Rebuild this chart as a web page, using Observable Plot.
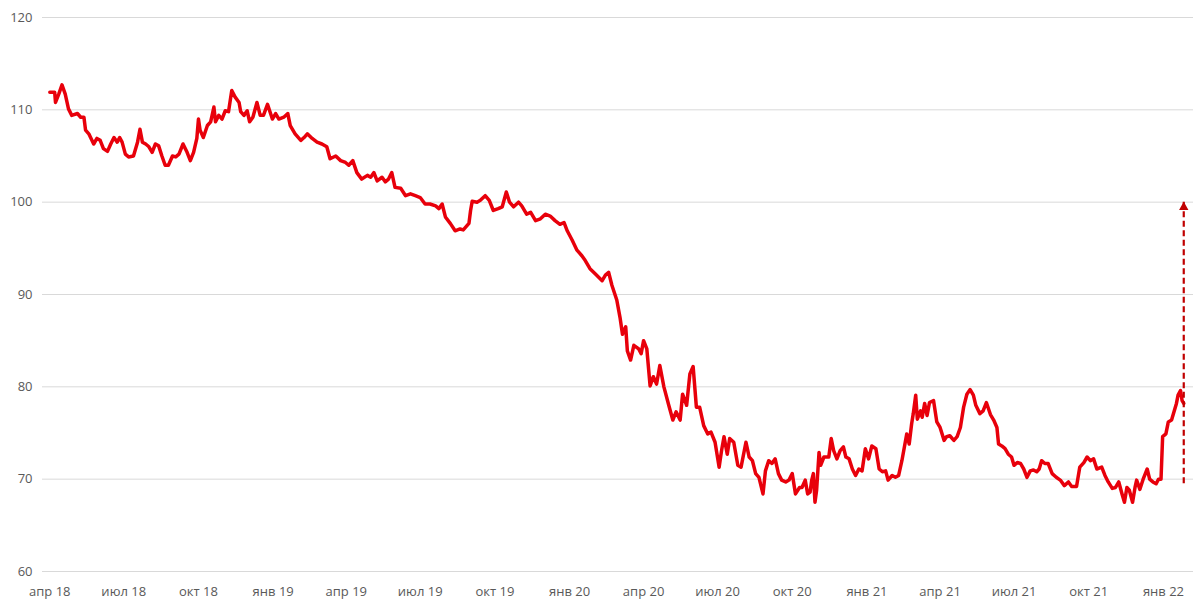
<!DOCTYPE html>
<html>
<head>
<meta charset="utf-8">
<script src="https://cdn.jsdelivr.net/npm/d3@7"></script>
<script src="https://cdn.jsdelivr.net/npm/@observablehq/plot@0.6"></script>
<style>
  html, body { margin: 0; padding: 0; background: #ffffff; }
  #chart { width: 1200px; height: 610px; }
</style>
</head>
<body>
<div id="chart"></div>
<script>
// ---- data ----
const series2018 = [
  ["2018-04-01",111.9],["2018-04-07",111.9],["2018-04-08",110.8],["2018-04-12",111.7],["2018-04-16",112.7],
  ["2018-04-20",111.7],["2018-04-24",110.1],["2018-04-28",109.4],["2018-05-05",109.6],["2018-05-09",109.2],
  ["2018-05-13",109.2],["2018-05-15",107.8],["2018-05-19",107.4],["2018-05-25",106.3],["2018-05-29",106.9],
  ["2018-06-02",106.7],["2018-06-06",105.8],["2018-06-11",105.5],["2018-06-15",106.3],["2018-06-19",107.0],
  ["2018-06-23",106.5],["2018-06-26",107.0],["2018-06-29",106.5],["2018-07-03",105.2],["2018-07-07",104.9],
  ["2018-07-13",105.0],["2018-07-18",106.5],["2018-07-21",107.9],["2018-07-24",106.5],["2018-07-28",106.3],
  ["2018-08-01",106.0],["2018-08-05",105.4],["2018-08-09",106.3],["2018-08-13",106.1],["2018-08-17",105.0],
  ["2018-08-21",104.0],["2018-08-25",104.0],["2018-08-30",105.0],["2018-09-03",104.9],["2018-09-07",105.2],
  ["2018-09-12",106.3],["2018-09-17",105.4],["2018-09-21",104.5],["2018-09-25",105.4],["2018-09-29",106.9],
  ["2018-10-01",109.0],["2018-10-03",107.8],["2018-10-07",107.0],["2018-10-12",108.3],["2018-10-16",108.7],
  ["2018-10-20",110.3],["2018-10-22",108.7],["2018-10-26",109.4],["2018-10-30",109.0],["2018-11-03",109.9],
  ["2018-11-07",109.8],["2018-11-11",112.1],["2018-11-15",111.4],["2018-11-20",110.8],["2018-11-22",109.8],
  ["2018-11-26",109.4],["2018-11-30",109.9],["2018-12-03",108.7],["2018-12-07",109.2],["2018-12-12",110.8],
  ["2018-12-16",109.4],["2018-12-20",109.4],["2018-12-25",110.6],["2018-12-31",109.0]
];
const series2019 = [
  ["2019-01-04",109.6],["2019-01-08",109.0],["2019-01-14",109.2],["2019-01-19",109.6],["2019-01-22",108.3],
  ["2019-01-28",107.4],["2019-02-04",106.7],["2019-02-08",107.0],["2019-02-12",107.4],["2019-02-18",106.9],
  ["2019-02-24",106.5],["2019-03-02",106.3],["2019-03-08",106.0],["2019-03-12",104.7],["2019-03-19",105.0],
  ["2019-03-25",104.5],["2019-03-31",104.3],["2019-04-04",104.0],["2019-04-09",104.5],["2019-04-14",103.2],
  ["2019-04-20",102.5],["2019-04-27",102.9],["2019-05-01",102.7],["2019-05-05",103.2],["2019-05-09",102.3],
  ["2019-05-15",102.7],["2019-05-19",102.2],["2019-05-23",102.5],["2019-05-27",103.2],["2019-05-31",101.6],
  ["2019-06-07",101.5],["2019-06-13",100.7],["2019-06-19",100.9],["2019-06-25",100.7],["2019-07-01",100.5],
  ["2019-07-07",99.8],["2019-07-13",99.8],["2019-07-20",99.6],["2019-07-24",99.3],["2019-07-28",99.8],
  ["2019-08-01",98.4],["2019-08-07",97.7],["2019-08-13",96.9],["2019-08-19",97.1],["2019-08-23",97.0],
  ["2019-08-30",97.7],["2019-09-01",99.1],["2019-09-03",100.1],["2019-09-09",100.0],["2019-09-13",100.2],
  ["2019-09-19",100.7],["2019-09-24",100.2],["2019-09-29",99.1],["2019-10-05",99.3],["2019-10-10",99.5],
  ["2019-10-15",101.1],["2019-10-19",100.0],["2019-10-24",99.5],["2019-10-30",100.0],["2019-11-03",99.6],
  ["2019-11-09",98.7],["2019-11-14",98.9],["2019-11-20",98.0],["2019-11-26",98.2],["2019-12-02",98.7],
  ["2019-12-08",98.5],["2019-12-14",98.0],["2019-12-20",97.6],["2019-12-25",97.8],["2019-12-29",96.9]
];
const series2020 = [
  ["2020-01-04",95.9],["2020-01-10",94.8],["2020-01-16",94.2],["2020-01-20",93.7],["2020-01-26",92.8],
  ["2020-02-02",92.2],["2020-02-10",91.5],["2020-02-14",92.1],["2020-02-18",92.4],["2020-02-22",91.0],
  ["2020-02-28",89.4],["2020-03-03",87.5],["2020-03-06",85.7],["2020-03-10",86.5],["2020-03-12",83.9],
  ["2020-03-16",82.9],["2020-03-20",84.5],["2020-03-26",84.1],["2020-03-29",83.6],["2020-04-01",85.0],
  ["2020-04-05",84.1],["2020-04-09",80.1],["2020-04-13",81.1],["2020-04-17",80.3],["2020-04-21",82.3],
  ["2020-04-26",80.0],["2020-05-02",78.0],["2020-05-07",76.4],["2020-05-11",77.3],["2020-05-16",76.4],
  ["2020-05-19",79.2],["2020-05-24",78.0],["2020-05-28",81.4],["2020-06-01",82.2],["2020-06-05",77.8],
  ["2020-06-09",77.8],["2020-06-14",75.8],["2020-06-19",74.9],["2020-06-23",75.1],["2020-06-28",74.0],
  ["2020-07-03",71.3],["2020-07-06",73.1],["2020-07-09",74.6],["2020-07-13",72.7],["2020-07-16",74.4],
  ["2020-07-21",74.0],["2020-07-26",71.5],["2020-07-30",71.3],["2020-08-05",74.0],["2020-08-09",72.4],
  ["2020-08-13",72.0],["2020-08-17",70.6],["2020-08-21",70.2],["2020-08-26",68.4],["2020-08-29",70.9],
  ["2020-09-02",72.0],["2020-09-06",71.7],["2020-09-10",72.2],["2020-09-14",70.6],["2020-09-18",69.9],
  ["2020-09-23",69.7],["2020-09-27",69.9],["2020-10-01",70.6],["2020-10-05",68.4],["2020-10-10",69.1],
  ["2020-10-13",69.1],["2020-10-17",69.9],["2020-10-20",68.4],["2020-10-23",68.6],["2020-10-25",69.9],
  ["2020-10-27",70.6],["2020-10-29",67.5],["2020-10-31",68.8],["2020-11-03",72.9],["2020-11-05",71.5],
  ["2020-11-09",72.4],["2020-11-15",72.4],["2020-11-18",74.4],["2020-11-21",73.1],["2020-11-25",72.2],
  ["2020-11-29",73.1],["2020-12-03",73.5],["2020-12-06",72.4],["2020-12-10",72.2],["2020-12-14",71.1],
  ["2020-12-18",70.4],["2020-12-22",71.1],["2020-12-26",70.9],["2020-12-30",73.3]
];
const series2021 = [
  ["2021-01-03",72.2],["2021-01-07",73.6],["2021-01-12",73.3],["2021-01-16",71.1],["2021-01-20",70.8],
  ["2021-01-24",70.9],["2021-01-27",69.9],["2021-02-01",70.4],["2021-02-05",70.2],["2021-02-09",70.4],
  ["2021-02-13",72.0],["2021-02-19",74.9],["2021-02-22",73.8],["2021-02-25",76.0],["2021-02-27",77.1],
  ["2021-03-02",79.1],["2021-03-04",76.5],["2021-03-08",77.4],["2021-03-10",76.7],["2021-03-13",78.2],
  ["2021-03-16",76.9],["2021-03-19",78.3],["2021-03-24",78.5],["2021-03-28",76.2],["2021-04-01",75.6],
  ["2021-04-06",74.2],["2021-04-09",74.6],["2021-04-13",74.7],["2021-04-18",74.2],["2021-04-22",74.6],
  ["2021-04-26",75.6],["2021-04-30",77.8],["2021-05-04",79.2],["2021-05-08",79.7],["2021-05-12",79.1],
  ["2021-05-15",78.0],["2021-05-20",77.1],["2021-05-24",77.4],["2021-05-28",78.3],["2021-06-02",77.0],
  ["2021-06-06",76.4],["2021-06-10",75.6],["2021-06-12",73.8],["2021-06-16",73.6],["2021-06-20",73.3],
  ["2021-06-24",72.7],["2021-06-28",72.4],["2021-07-01",71.5],["2021-07-05",71.8],["2021-07-09",71.7],
  ["2021-07-13",71.1],["2021-07-17",70.2],["2021-07-21",70.9],["2021-07-25",71.0],["2021-07-29",70.8],
  ["2021-08-01",71.1],["2021-08-04",72.0],["2021-08-08",71.7],["2021-08-12",71.7],["2021-08-17",70.6],
  ["2021-08-22",70.2],["2021-08-27",69.9],["2021-09-01",69.3],["2021-09-06",69.7],["2021-09-10",69.2],
  ["2021-09-16",69.2],["2021-09-20",71.3],["2021-09-25",71.8],["2021-09-29",72.4],["2021-10-03",72.0],
  ["2021-10-07",72.2],["2021-10-11",71.1],["2021-10-17",71.3],["2021-10-21",70.4],["2021-10-25",69.7],
  ["2021-10-30",69.0],["2021-11-03",69.1],["2021-11-07",69.7],["2021-11-11",68.4],["2021-11-14",67.5],
  ["2021-11-17",69.1],["2021-11-20",68.8],["2021-11-24",67.5],["2021-11-27",69.1],["2021-11-29",69.9],
  ["2021-12-03",68.9],["2021-12-07",70.0],["2021-12-12",71.1],["2021-12-15",70.0],["2021-12-19",69.7],
  ["2021-12-23",69.5],["2021-12-26",70.0],["2021-12-29",70.0],["2021-12-31",74.6]
];
const series2022 = [
  ["2022-01-04",74.9],["2022-01-07",76.2],["2022-01-11",76.4],["2022-01-14",77.3],["2022-01-17",78.2],
  ["2022-01-19",79.1],["2022-01-22",79.6],["2022-01-24",78.5],["2022-01-26",78.2]
];

const tickDates = ["2018-04-01","2018-07-01","2018-10-01","2019-01-01","2019-04-01","2019-07-01","2019-10-01","2020-01-01",
                   "2020-04-01","2020-07-01","2020-10-01","2021-01-01","2021-04-01","2021-07-01","2021-10-01","2022-01-01"];
const tickLabels = ["апр 18","июл 18","окт 18","янв 19","апр 19","июл 19","окт 19","янв 20",
                    "апр 20","июл 20","окт 20","янв 21","апр 21","июл 21","окт 21","янв 22"];
const yTicks = [60, 70, 80, 90, 100, 110, 120];
const xDomain = ["2018-03-23", "2022-02-07"];
const yDomain = [60, 120];

// dashed arrow at the end of the series
const arrowDate = "2022-01-26";
const arrowFrom = 69.5;
const arrowTo = 100;

// ---- build ----
const parse = s => new Date(s + "T00:00:00Z");
const data = [...series2018, ...series2019, ...series2020, ...series2021, ...series2022]
  .map(([d, v]) => ({date: parse(d), value: v}));
const tickDateObjs = tickDates.map(parse);
const labelMap = new Map(tickDateObjs.map((d, i) => [+d, tickLabels[i]]));
const arrow = [{date: parse(arrowDate), y1: arrowFrom, y2: arrowTo}];

const chart = Plot.plot({
  width: 1200,
  height: 610,
  marginTop: 17,
  marginBottom: 39,
  marginLeft: 42,
  marginRight: 7,
  style: {fontFamily: "'Open Sans', sans-serif", fontSize: "13px", color: "#595959", background: "#ffffff"},
  x: {type: "utc", domain: xDomain.map(parse), ticks: tickDateObjs, tickFormat: d => labelMap.get(+d),
      tickSize: 0, tickPadding: 15, label: null},
  y: {domain: yDomain, ticks: yTicks, tickSize: 0, tickPadding: 10, label: null},
  marks: [
    Plot.ruleY(yTicks, {stroke: "#d9d9d9", strokeWidth: 1}),
    Plot.line(data, {x: "date", y: "value", stroke: "#e8000b", strokeWidth: 3.5,
                     strokeLinejoin: "round", strokeLinecap: "round", curve: "linear"}),
    Plot.ruleX(arrow, {x: "date", y1: "y1", y2: "y2", stroke: "#c00000", strokeWidth: 2.2,
                       strokeDasharray: "6,3.5"}),
    Plot.dot(arrow, {x: "date", y: "y2", symbol: "triangle", r: 3.5, fill: "#c00000", stroke: "none", dy: 5})
  ]
});
document.getElementById("chart").appendChild(chart);
</script>
</body>
</html>
